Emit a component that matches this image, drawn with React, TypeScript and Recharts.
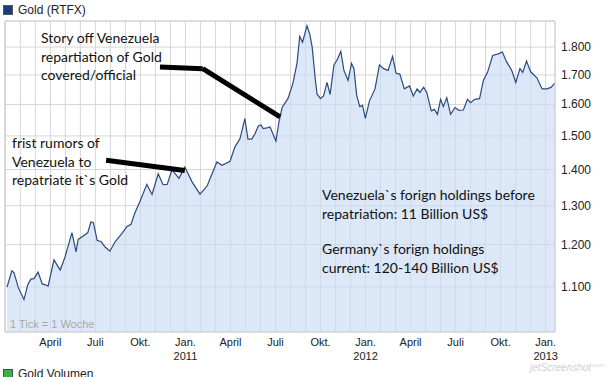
import React from 'react';
import {
  AreaChart,
  Area,
  XAxis,
  YAxis,
  CartesianGrid,
  ReferenceLine,
} from 'recharts';

// weeks since 1 Jan 2010, weekly gold close in US$
const weeks = [
  0.5, 1.9, 2.5, 3.8, 5.4, 6.5, 7.4, 8.3, 9.5, 10.7, 11.6, 12.4, 14.1, 15.9, 17.3, 19.3, 20.5, 21.1,
  23.0, 23.9, 24.8, 25.5, 26.6, 27.8, 28.9, 30.3, 31.8, 33.8, 35.2, 36.4, 37.5, 39.0,
  41.0, 42.5, 44.3, 45.7, 46.9, 48.3, 49.2, 50.3, 52.0, 54.1, 56.4, 58.5, 59.9, 61.3, 62.8,
  65.1, 66.5, 68.0, 69.4, 70.3, 71.4, 72.3, 73.3, 74.1, 74.7, 75.8, 76.7, 78.4, 79.3,
  80.2, 81.9, 83.3, 84.5, 85.3, 86.1, 87.4, 88.2, 88.9, 89.8, 90.3, 91.3, 92.2, 93.2,
  94.1, 95.2, 96.1, 97.2, 98.1, 99.3, 100.3, 101.0, 101.8, 102.7, 103.5, 104.3, 105.5, 107.1,
  108.4, 109.6, 110.9, 112.2, 113.2, 114.3, 115.6, 117.1, 118.2, 119.3, 120.1, 121.2, 122.1,
  123.4, 124.3, 125.2, 126.1, 126.9, 127.9, 129.0, 130.3, 131.4, 132.7, 133.9, 134.8, 136.0,
  137.4, 138.5, 139.7, 141.2, 142.8, 144.0, 145.2, 146.7, 147.9, 149.1, 149.9, 151.0,
  152.2, 154.0, 155.5, 156.9, 158.1, 159.2,
];
const gold = [
  1100, 1137, 1133, 1098, 1072, 1105, 1118, 1119, 1134, 1107, 1105, 1102, 1163, 1139, 1170, 1230, 1182, 1213,
  1224, 1230, 1257, 1256, 1211, 1207, 1194, 1184, 1207, 1228, 1245, 1251, 1280, 1311,
  1358, 1330, 1388, 1357, 1358, 1400, 1388, 1375, 1407, 1365, 1331, 1354, 1388, 1422, 1412,
  1424, 1466, 1492, 1554, 1490, 1490, 1506, 1531, 1534, 1523, 1525, 1528, 1484, 1545,
  1590, 1620, 1670, 1741, 1840, 1818, 1880, 1848, 1800, 1686, 1635, 1619, 1628, 1674,
  1633, 1735, 1753, 1784, 1716, 1681, 1741, 1722, 1630, 1593, 1597, 1555, 1612, 1652,
  1735, 1722, 1716, 1766, 1706, 1703, 1652, 1662, 1628, 1652, 1640, 1657, 1640,
  1579, 1584, 1568, 1617, 1593, 1622, 1568, 1590, 1581, 1582, 1617, 1606, 1617,
  1619, 1681, 1709, 1769, 1775, 1782, 1747, 1716, 1674, 1722, 1709, 1749,
  1711, 1690, 1652, 1652, 1657, 1672,
];

const priceTicks = [1100, 1200, 1300, 1400, 1500, 1600, 1700, 1800];
const monthNames = ['Jan.', 'April', 'Juli', 'Okt.'];
const yearNames = ['2010', '2011', '2012', '2013'];
const monthCount = 37;

// annotation arrows (week, price)
const storyArrow = [
  { x: 44.8, y: 1728 },
  { x: 57.2, y: 1722 },
  { x: 79.6, y: 1560 },
];
const rumorArrow = [
  { x: 29.2, y: 1427 },
  { x: 52.0, y: 1397 },
];

const data = weeks.map((w, i) => ({ week: w, gold: gold[i] }));
const WEEKS_PER_MONTH = 52.18 / 12;
const monthTicks = Array.from({ length: monthCount }, (_, m) => m * WEEKS_PER_MONTH);

const MonthTick = (props: any) => {
  const { x, y, payload } = props;
  const m = Math.round(payload.value / WEEKS_PER_MONTH);
  if (m === 0 || m % 3 !== 0) return <g />;
  const name = monthNames[(m / 3) % 4];
  const year = m % 12 === 0 ? yearNames[m / 12] : null;
  return (
    <g>
      <text x={x} y={y + 6} textAnchor="middle" fontSize={11} fill="#222" fontFamily="Liberation Sans, Arial">
        {name}
      </text>
      {year && (
        <text x={x} y={y + 20} textAnchor="middle" fontSize={11} fill="#222" fontFamily="Liberation Sans, Arial">
          {year}
        </text>
      )}
    </g>
  );
};

const PriceTick = (props: any) => {
  const { x, y, payload } = props;
  const label = String(payload.value).replace(/(\d)(\d{3})$/, '$1.$2');
  return (
    <text x={x - 2} y={y + 4} textAnchor="start" fontSize={12} fill="#222" fontFamily="Liberation Sans, Arial">
      {label}
    </text>
  );
};

const note: React.CSSProperties = {
  position: 'absolute',
  fontFamily: 'Lato, "Noto Sans", sans-serif',
  fontSize: 14,
  lineHeight: '18.5px',
  color: '#111',
  whiteSpace: 'pre',
};

const App: React.FC = () => {
  return (
    <div style={{ position: 'absolute', left: 0, top: 0, width: 609, height: 377, background: '#fff', overflow: 'hidden' }}>
      <div style={{ position: 'absolute', left: 3, top: 3, display: 'flex', alignItems: 'center', fontFamily: 'Liberation Sans, Arial', fontSize: 12, color: '#222' }}>
        <span style={{ display: 'inline-block', width: 8, height: 8, background: '#1f3b7a', border: '1px solid #556', marginRight: 5 }} />
        Gold (RTFX)
      </div>

      <AreaChart
        width={609}
        height={377}
        data={data}
        margin={{ top: 21, right: 0, bottom: 0, left: 5 }}
      >
        <CartesianGrid stroke="#d6d6d6" vertical horizontal />
        <XAxis
          dataKey="week"
          type="number"
          domain={[-0.09, 159.25]}
          ticks={monthTicks}
          interval={0}
          tick={<MonthTick />}
          tickLine={false}
          axisLine={{ stroke: '#cfcfcf' }}
          height={45}
          allowDataOverflow
        />
        <YAxis
          orientation="right"
          scale="log"
          domain={[1003, 1899]}
          ticks={priceTicks}
          interval={0}
          tick={<PriceTick />}
          tickLine={false}
          axisLine={{ stroke: '#cfcfcf' }}
          width={54}
          allowDataOverflow
        />
        <ReferenceLine y={1899} stroke="#cfcfcf" />
        <ReferenceLine x={-0.09} stroke="#cfcfcf" />
        <Area
          type="linear"
          dataKey="gold"
          stroke="#2c4a7e"
          strokeWidth={1.2}
          fill="#c9dbf3"
          fillOpacity={0.65}
          baseValue="dataMin"
          isAnimationActive={false}
        />
        <ReferenceLine segment={[storyArrow[0], storyArrow[1]]} stroke="#000" strokeWidth={5} ifOverflow="visible" />
        <ReferenceLine segment={[storyArrow[1], storyArrow[2]]} stroke="#000" strokeWidth={5} ifOverflow="visible" />
        <ReferenceLine segment={[rumorArrow[0], rumorArrow[1]]} stroke="#000" strokeWidth={5} ifOverflow="visible" />
      </AreaChart>

      <div style={{ ...note, left: 41, top: 29 }}>{'Story off Venezuela\nrepartiation of Gold\ncovered/official'}</div>
      <div style={{ ...note, left: 12, top: 134 }}>{'frist rumors of\nVenezuela to\nrepatriate it`s Gold'}</div>
      <div style={{ ...note, left: 322, top: 186 }}>{'Venezuela`s forign holdings before\nrepatriation: 11 Billion US$'}</div>
      <div style={{ ...note, left: 322, top: 240 }}>{'Germany`s forign holdings\ncurrent: 120-140 Billion US$'}</div>

      <div style={{ position: 'absolute', left: 10, top: 318, fontFamily: 'Liberation Sans, Arial', fontSize: 11, color: '#a8a8a8' }}>
        1 Tick = 1 Woche
      </div>

      <div style={{ position: 'absolute', left: 530, top: 362, fontFamily: 'Liberation Sans, Arial', fontSize: 10, fontStyle: 'italic', color: '#d0d0d0' }}>
        jetScreenshot<span style={{ fontSize: 6, verticalAlign: 'super' }}>.com</span>
      </div>

      <div style={{ position: 'absolute', left: 3, top: 367, display: 'flex', alignItems: 'center', fontFamily: 'Liberation Sans, Arial', fontSize: 12, color: '#222' }}>
        <span style={{ display: 'inline-block', width: 8, height: 8, background: '#3cb043', border: '1px solid #355', marginRight: 5 }} />
        Gold Volumen
      </div>
    </div>
  );
};

export default App;
